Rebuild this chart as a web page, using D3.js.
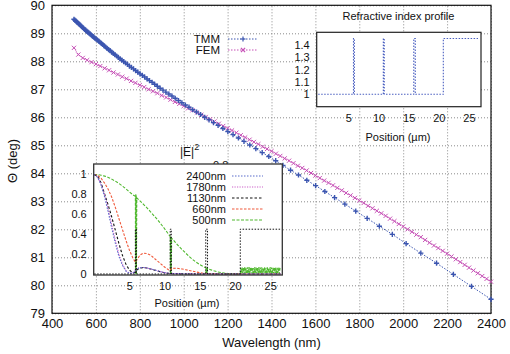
<!DOCTYPE html>
<html><head><meta charset="utf-8">
<script src="https://cdn.jsdelivr.net/npm/d3@7"></script>
<style>
body{margin:0;background:#fff}
svg{display:block}
text{font-family:"Liberation Sans",Arial,Helvetica,sans-serif;fill:#111}
</style>
</head><body>
<svg id="c" width="510" height="354"></svg>
<script>
// ---------------- DATA ----------------
const xTicks = [400,600,800,1000,1200,1400,1600,1800,2000,2200,2400];
const yTicks = [79,80,81,82,83,84,85,86,87,88,89,90];
const seriesNames = ["TMM","FEM"];

const tmmLambda = [500.0,504.0,508.1,512.3,516.5,520.8,525.2,529.7,534.2,538.8,543.5,548.2,553.1,558.0,563.0,568.2,573.4,578.7,584.1,589.6,595.2,600.9,606.7,612.7,618.7,624.9,631.2,637.7,644.2,650.9,657.8,664.8,671.9,679.3,686.7,694.3,702.1,710.1,718.2,726.6,735.1,743.9,752.8,762.0,771.4,781.0,790.9,801.1,811.5,822.2,833.1,844.3,855.9,867.8,880.0,892.5,905.5,918.8,932.5,946.6,961.2,976.2,991.7,1007.7,1024.1,1041.1,1058.8,1077.0,1095.9,1115.4,1135.7,1156.7,1178.6,1201.2,1224.7,1249.2,1274.7,1301.2,1328.7,1357.6,1387.7,1419.2,1452.2,1486.8,1523.0,1561.0,1601.0,1643.1,1687.5,1734.3,1783.8,1835.9,1891.4,1950.5,2013.3,2080.3,2151.9,2228.6,2311.1,2400.0];
const tmmTheta = [89.50,89.47,89.44,89.41,89.38,89.35,89.32,89.28,89.25,89.21,89.18,89.14,89.11,89.08,89.04,89.01,88.98,88.94,88.90,88.87,88.83,88.79,88.76,88.72,88.68,88.64,88.60,88.55,88.51,88.46,88.42,88.38,88.33,88.28,88.24,88.19,88.14,88.09,88.04,87.99,87.94,87.89,87.83,87.78,87.73,87.67,87.61,87.55,87.50,87.44,87.37,87.31,87.25,87.18,87.11,87.04,86.97,86.90,86.83,86.76,86.68,86.60,86.52,86.44,86.36,86.27,86.19,86.10,86.00,85.91,85.81,85.71,85.60,85.49,85.38,85.26,85.14,85.01,84.88,84.74,84.60,84.45,84.28,84.11,83.94,83.75,83.56,83.35,83.13,82.90,82.65,82.39,82.11,81.82,81.49,81.15,80.79,80.39,79.96,79.50];

const femLambda = [500,520,540,560,580,600,620,640,660,680,700,720,740,760,780,800,820,840,860,880,900,920,940,960,980,1000,1020,1040,1060,1080,1100,1120,1140,1160,1180,1200,1220,1240,1260,1280,1300,1320,1340,1360,1380,1400,1420,1440,1460,1480,1500,1520,1540,1560,1580,1600,1620,1640,1660,1680,1700,1720,1740,1760,1780,1800,1820,1840,1860,1880,1900,1920,1940,1960,1980,2000,2020,2040,2060,2080,2100,2120,2140,2160,2180,2200,2220,2240,2260,2280,2300,2320,2340,2360,2380,2400];
const femTheta = [88.48,88.24,88.12,88.04,87.97,87.90,87.83,87.75,87.68,87.60,87.53,87.45,87.38,87.30,87.23,87.15,87.08,87.00,86.93,86.86,86.78,86.71,86.63,86.55,86.48,86.40,86.32,86.25,86.17,86.09,86.01,85.93,85.85,85.77,85.69,85.61,85.53,85.45,85.36,85.28,85.20,85.12,85.04,84.95,84.87,84.79,84.70,84.62,84.53,84.45,84.36,84.27,84.19,84.10,84.01,83.92,83.83,83.74,83.66,83.57,83.48,83.39,83.30,83.21,83.12,83.03,82.94,82.84,82.75,82.66,82.57,82.48,82.38,82.29,82.19,82.10,82.00,81.91,81.81,81.72,81.62,81.52,81.42,81.33,81.23,81.13,81.03,80.93,80.83,80.73,80.63,80.53,80.43,80.33,80.23,80.13];

// refractive index profile (position in µm, index)
const profilePos = [0,5.85,5.85,6.0,6.0,10.8,10.8,10.95,10.95,15.85,15.85,16.1,16.1,20.75,20.75,26.5];
const profileN   = [1,1,1.45,1.45,1,1,1.45,1.45,1,1,1.45,1.45,1,1,1.45,1.45];
const nTicks = [1,1.1,1.2,1.3,1.4];
const posTicks = [5,10,15,20,25];
const eTicks = [0,0.2,0.4,0.6,0.8,1];

// |E|^2 field profiles
const fieldLabels = ["2400nm","1780nm","1130nm","660nm","500nm"];
const fieldPos = [0,0.5,1,1.5,2,2.5,3,3.5,4,4.5,5,5.5,5.85,6.05,6.5,7,7.5,8,8.5,9,9.5,10,10.5,10.8,11,11.5,12,12.5,13,13.5,14,14.5,15,15.5,15.85,16.1,16.5,17,17.5,18,18.5,19,19.5,20,20.5,20.75,22,24,26.5];
const e2400 = [1,0.97,0.89,0.77,0.62,0.46,0.31,0.18,0.09,0.03,0.005,0.01,0.03,0.05,0.062,0.065,0.06,0.052,0.042,0.032,0.022,0.014,0.008,0.005,0.006,0.005,0.004,0.003,0.002,0.001,0.001,0,0,0,0,0,0,0,0,0,0,0,0,0,0,0,0,0,0];
const e1780 = [1,0.97,0.9,0.79,0.65,0.49,0.34,0.2,0.1,0.035,0.006,0.012,0.035,0.055,0.065,0.066,0.06,0.052,0.042,0.032,0.022,0.014,0.008,0.005,0.006,0.005,0.004,0.003,0.002,0.001,0.001,0,0,0,0,0,0,0,0,0,0,0,0,0,0,0,0,0,0];
const e1130 = [1,0.98,0.91,0.8,0.69,0.57,0.44,0.31,0.19,0.1,0.04,0.01,0.02,0.04,0.06,0.065,0.06,0.05,0.04,0.03,0.02,0.013,0.007,0.005,0.004,0.003,0.002,0.001,0,0,0,0,0,0,0,0,0,0,0,0,0,0,0,0,0,0,0,0,0];
const e660  = [1,0.99,0.96,0.91,0.85,0.77,0.67,0.56,0.45,0.34,0.24,0.16,0.12,0.14,0.19,0.21,0.205,0.19,0.16,0.13,0.1,0.07,0.045,0.035,0.055,0.058,0.055,0.05,0.043,0.036,0.028,0.02,0.013,0.008,0.005,0.004,0.003,0.002,0.001,0,0,0,0,0,0,0,0,0,0];
const greenPos = [0,0.5,1,1.5,2,2.5,3,3.5,4,4.5,5,5.5,5.85,5.88,5.91,5.94,5.97,6.0,6.05,6.5,7,7.5,8,8.5,9,9.5,10,10.5,10.8,10.83,10.86,10.89,10.92,10.95,11,11.5,12,12.5,13,13.5,14,14.5,15,15.5,15.85,15.89,15.93,15.97,16.01,16.05,16.1,16.5,17,17.5,18,18.5,19,19.5,20,20.5,20.75];
const greenVal = [1,0.998,0.992,0.983,0.97,0.953,0.933,0.91,0.884,0.856,0.825,0.795,0.78,0,0.8,0,0.79,0,0.765,0.735,0.7,0.665,0.625,0.585,0.545,0.5,0.455,0.405,0.375,0,0.37,0,0.365,0,0.36,0.32,0.28,0.245,0.21,0.175,0.145,0.118,0.095,0.075,0.063,0,0.065,0,0.06,0,0.055,0.044,0.032,0.022,0.014,0.009,0.005,0.003,0.002,0.001,0.001];
const greenSubPos = [20.8,20.9,21.0,21.1,21.2,21.3,21.4,21.5,21.6,21.7,21.8,21.9,22.0,22.1,22.2,22.3,22.4,22.5,22.6,22.7,22.8,22.9,23.0,23.1,23.2,23.3,23.4,23.5,23.6,23.7,23.8,23.9,24.0,24.1,24.2,24.3,24.4,24.5,24.6,24.7,24.8,24.9,25.0,25.1,25.2,25.3,25.4,25.5,25.6,25.7,25.8,25.9,26.0,26.1,26.2,26.3,26.4];
const greenSubVal = [0.06,0.003,0.068,0.002,0.064,0.004,0.07,0.003,0.062,0.002,0.066,0.004,0.071,0.003,0.063,0.002,0.067,0.004,0.06,0.003,0.069,0.002,0.065,0.004,0.062,0.003,0.07,0.002,0.064,0.004,0.067,0.003,0.061,0.002,0.068,0.004,0.063,0.003,0.066,0.002,0.06,0.004,0.069,0.003,0.064,0.002,0.062,0.004,0.067,0.003,0.065,0.002,0.061,0.004,0.066,0.003,0.063];

// ---------------- DRAWING ----------------
const svg = d3.select("#c");
svg.append("rect").attr("width",510).attr("height",354).attr("fill","#fff");

const L=52,R=491,T=5.3,B=313.3;
const x = d3.scaleLinear().domain([400,2400]).range([L,R]);
const y = d3.scaleLinear().domain([79,90]).range([B,T]);
const gridCol="#8a8a8a";

const gx = svg.append("g").attr("transform",`translate(0,${B})`)
  .call(d3.axisBottom(x).tickValues(xTicks).tickSize(-(B-T)).tickPadding(5).tickFormat(d3.format("d")));
gx.select(".domain").remove();
gx.selectAll(".tick line").attr("stroke",gridCol).attr("stroke-dasharray","1,2");
gx.selectAll(".tick text").attr("font-size",13).attr("fill","#111");

const gy = svg.append("g").attr("transform",`translate(${L},0)`)
  .call(d3.axisLeft(y).tickValues(yTicks).tickSize(-(R-L)).tickPadding(7).tickFormat(d3.format("d")));
gy.select(".domain").remove();
gy.selectAll(".tick line").attr("stroke",gridCol).attr("stroke-dasharray","1,2");
gy.selectAll(".tick text").attr("font-size",13).attr("fill","#111").attr("dy","0.36em");

svg.append("rect").attr("x",L).attr("y",T).attr("width",R-L).attr("height",B-T)
  .attr("fill","none").attr("stroke","#111").attr("stroke-width",1.2);

svg.append("text").attr("x",(L+R)/2).attr("y",347).attr("text-anchor","middle").attr("font-size",13).text("Wavelength (nm)");
svg.append("text").attr("transform","translate(17,161) rotate(-90)").attr("text-anchor","middle").attr("font-size",13).text("Θ (deg)");

const tmmCol="#3b55b0", femCol="#c64fb6";
const tmm = tmmLambda.map((l,i)=>[l,tmmTheta[i]]).filter(d=>d[1]!==undefined);
const fem = femLambda.map((l,i)=>[l,femTheta[i]]).filter(d=>d[1]!==undefined);
const line = d3.line().x(d=>x(d[0])).y(d=>y(d[1]));
const plus = "M-2.6,0H2.6M0,-2.6V2.6";
const cross = "M-2.1,-2.1L2.1,2.1M-2.1,2.1L2.1,-2.1";

svg.append("path").datum(fem).attr("d",line).attr("fill","none").attr("stroke",femCol).attr("stroke-width",1).attr("stroke-dasharray","1.5,1.5");
svg.append("g").selectAll("path").data(fem).join("path")
  .attr("transform",d=>`translate(${x(d[0])},${y(d[1])})`).attr("d",cross).attr("stroke",femCol).attr("stroke-width",1).attr("fill","none");
svg.append("path").datum(tmm).attr("d",line).attr("fill","none").attr("stroke",tmmCol).attr("stroke-width",1).attr("stroke-dasharray","1.5,1.5");
svg.append("g").selectAll("path").data(tmm).join("path")
  .attr("transform",d=>`translate(${x(d[0])},${y(d[1])})`).attr("d",plus).attr("stroke",tmmCol).attr("stroke-width",1.4).attr("fill","none");

const leg = [{n:seriesNames[0],c:tmmCol,m:plus,y:39},{n:seriesNames[1],c:femCol,m:cross,y:50}];
leg.forEach(e=>{
  svg.append("text").attr("x",220).attr("y",e.y+4).attr("text-anchor","end").attr("font-size",11.5).text(e.n);
  svg.append("line").attr("x1",228).attr("x2",257).attr("y1",e.y).attr("y2",e.y).attr("stroke",e.c).attr("stroke-dasharray","1.5,1.5");
  svg.append("path").attr("transform",`translate(243,${e.y})`).attr("d",e.m).attr("stroke",e.c).attr("stroke-width",1.2).attr("fill","none");
});

// ---------- inset 2 : |E|^2 ----------
const eL=93.7,eR=282.3,eT=164,eB=275;
const ex = d3.scaleLinear().domain([-0.07,26.72]).range([eL,eR]);
const ey = d3.scaleLinear().domain([-0.01,1.105]).range([eB,eT]);

const lab = svg.append("text").attr("x",180).attr("y",156).attr("font-size",12);
lab.append("tspan").text("|E|");
lab.append("tspan").attr("dy",-6).attr("font-size",9).text("2");
svg.append("text").attr("x",213).attr("y",168.5).attr("font-size",11).text("0.8");

svg.append("rect").attr("x",eL).attr("y",eT).attr("width",eR-eL).attr("height",eB-eT).attr("fill","#fff");

const eline = d3.line().x(d=>ex(d[0])).y(d=>ey(d[1]));
const fieldStyles = [
  {v:e2400,c:"#5a6ccc",dash:"1.5,1.5"},
  {v:e1780,c:"#cc5fc8",dash:"1.2,1.3"},
  {v:e1130,c:"#111",dash:"2.5,2"},
  {v:e660, c:"#f0583a",dash:"2.5,1.5"},
];
const greenCol="#4fb82e";
const greenData = greenPos.map((p,i)=>[p,greenVal[i]]).concat(greenSubPos.map((p,i)=>[p,greenSubVal[i]]));
svg.append("path").datum(greenData).attr("d",eline).attr("fill","none").attr("stroke",greenCol).attr("stroke-width",1.1).attr("stroke-dasharray","3,1.5");
fieldStyles.slice().reverse().forEach(s=>{
  const data = fieldPos.map((p,i)=>[p,s.v[i]]).filter(d=>d[1]!==undefined);
  svg.append("path").datum(data).attr("d",eline).attr("fill","none").attr("stroke",s.c).attr("stroke-width",1.1).attr("stroke-dasharray",s.dash);
});
const prof2 = profilePos.map((p,i)=>[p,profileN[i]-1]);
svg.append("path").datum(prof2).attr("d",eline).attr("fill","none").attr("stroke","#111").attr("stroke-width",1).attr("stroke-dasharray","1.5,1.5");

svg.append("rect").attr("x",eL).attr("y",eT).attr("width",eR-eL).attr("height",eB-eT).attr("fill","none").attr("stroke","#333").attr("stroke-width",1.3);

const e2x = svg.append("g").attr("transform",`translate(0,${eB})`).call(d3.axisBottom(ex).tickValues(posTicks).tickSize(0).tickPadding(7));
e2x.select(".domain").remove();
e2x.selectAll("text").attr("font-size",11).attr("fill","#111");
const e2y = svg.append("g").attr("transform",`translate(${eL},0)`).call(d3.axisLeft(ey).tickValues(eTicks).tickSize(0).tickPadding(7).tickFormat(d=>d===0?"0":d===1?"1":d3.format(".1f")(d)));
e2y.select(".domain").remove();
e2y.selectAll("text").attr("font-size",11).attr("fill","#111");
svg.append("text").attr("x",187).attr("y",307).attr("text-anchor","middle").attr("font-size",11).text("Position (µm)");

const legCols = [...fieldStyles.map(s=>({c:s.c,dash:s.dash})),{c:greenCol,dash:"3,1.5"}];
fieldLabels.forEach((t,i)=>{
  const yy = 176 + i*11;
  svg.append("text").attr("x",226).attr("y",yy+4).attr("text-anchor","end").attr("font-size",11).text(t);
  svg.append("line").attr("x1",232).attr("x2",263).attr("y1",yy).attr("y2",yy).attr("stroke",legCols[i].c).attr("stroke-width",1.1).attr("stroke-dasharray",legCols[i].dash);
});

// ---------- inset 1 : refractive index ----------
const rL=316.7,rR=481,rT=32.3,rB=106.7;
const rx = d3.scaleLinear().domain([-0.25,27.0]).range([rL,rR]);
const ry = d3.scaleLinear().domain([0.9,1.5]).range([rB,rT]);
svg.append("rect").attr("x",rL).attr("y",rT).attr("width",rR-rL).attr("height",rB-rT).attr("fill","#fff");
const rline = d3.line().x(d=>rx(d[0])).y(d=>ry(d[1]));
svg.append("path").datum(profilePos.map((p,i)=>[p,profileN[i]])).attr("d",rline).attr("fill","none").attr("stroke","#4a5fc0").attr("stroke-width",1.1).attr("stroke-dasharray","1.5,1.5");
svg.append("rect").attr("x",rL).attr("y",rT).attr("width",rR-rL).attr("height",rB-rT).attr("fill","none").attr("stroke","#222").attr("stroke-width",1.2);

const r1y = svg.append("g").attr("transform",`translate(${rL},0)`).call(d3.axisLeft(ry).tickValues(nTicks).tickSize(0).tickPadding(7).tickFormat(d=>d===1?"1":d3.format(".1f")(d)));
r1y.select(".domain").remove();
r1y.selectAll("text").attr("font-size",11).attr("fill","#111");
const r1x = svg.append("g").attr("transform",`translate(0,${rB})`).call(d3.axisBottom(rx).tickValues(posTicks).tickSize(0).tickPadding(8));
r1x.select(".domain").remove();
r1x.selectAll("text").attr("font-size",11).attr("fill","#111");
svg.append("text").attr("x",398).attr("y",140.5).attr("text-anchor","middle").attr("font-size",11).text("Position (µm)");
svg.append("text").attr("x",398.5).attr("y",20).attr("text-anchor","middle").attr("font-size",11).text("Refractive index profile");
</script>
</body></html>
